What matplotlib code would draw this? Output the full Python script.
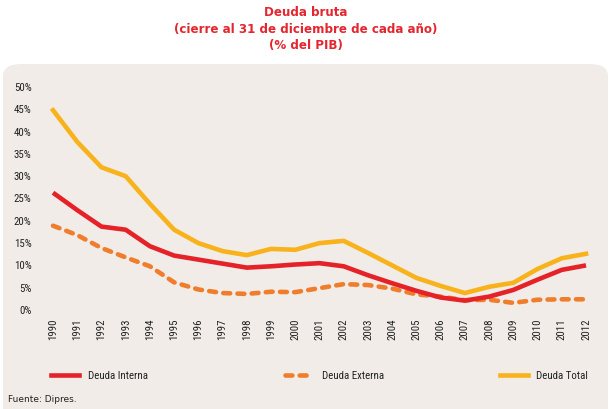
import matplotlib
matplotlib.use("Agg")
import matplotlib.pyplot as plt
from matplotlib import font_manager
from matplotlib.patches import FancyBboxPatch
from matplotlib.lines import Line2D

#---------------------------------- DATA --------------------------------------

years = list(range(1990, 2013))
deuda_interna = [26.3, 22.4, 18.7, 18.0, 14.3, 12.2, 11.3, 10.4, 9.5, 9.8,
                 10.2, 10.5, 9.8, 7.8, 6.0, 4.3, 2.8, 2.1, 3.0, 4.5,
                 6.8, 9.0, 10.0]
deuda_externa = [18.9, 16.8, 13.9, 11.8, 9.8, 6.2, 4.6, 3.8, 3.6, 4.1,
                 4.0, 4.9, 5.8, 5.6, 4.8, 3.5, 3.0, 2.2, 2.3, 1.6,
                 2.3, 2.4, 2.4]
deuda_total = [44.8, 37.7, 32.0, 30.0, 23.8, 18.0, 15.0, 13.2, 12.3, 13.7,
               13.5, 15.0, 15.5, 12.8, 10.0, 7.2, 5.4, 3.8, 5.2, 6.1,
               9.2, 11.6, 12.6]
y_ticks = list(range(0, 51, 5))

#--------------------------------- STYLE --------------------------------------

c_interna = "#e52228"
c_externa = "#f07d2b"
c_total = "#f8b31c"
panel_bg = "#f1ece7"
dash = (0, (1.5, 1.6))

#pick a narrow font if one is available
installed = {f.name for f in font_manager.fontManager.ttflist}
tick_font = "DejaVu Sans"
for name in ["Liberation Sans Narrow", "DejaVu Sans Condensed", "Roboto Condensed"]:
    if name in installed:
        tick_font = name
        break
tick_size = 7.8 if tick_font != "DejaVu Sans" else 6.5

W, H = 612, 409
fig = plt.figure(figsize=(W / 100, H / 100), dpi=100)
fig.patch.set_facecolor("white")

#rounded background panel, running off the bottom of the picture
panel = FancyBboxPatch((3 / W, -20 / H), (605 / W), (365 / H),
                       boxstyle="round,pad=0,rounding_size=0.03",
                       transform=fig.transFigure, facecolor=panel_bg,
                       edgecolor="none", zorder=-10)
fig.patches.append(panel)

#title
for txt, ypx in [("Deuda bruta", 12),
                 ("(cierre al 31 de diciembre de cada año)", 29),
                 ("(% del PIB)", 46)]:
    fig.text(0.5, 1 - ypx / H, txt, ha="center", va="center",
             color="#e3262f", fontsize=8.6, fontweight="bold")

#axes placed so 1990 -> x=53px, 2012 -> x=586px, 0% -> y=310, 50% -> y=87
step = (586 - 53) / 22
ax_l, ax_r = 40, 600
ax = fig.add_axes([ax_l / W, (H - 310) / H, (ax_r - ax_l) / W, (310 - 87) / H])
ax.set_zorder(5)
ax.set_facecolor("none")
ax.set_xlim(1990 - (53 - ax_l) / step, 2012 + (ax_r - 586) / step)
ax.set_ylim(0, 50)

ax.plot(years, deuda_interna, color=c_interna, lw=3.3,
        solid_capstyle="butt", label="Deuda Interna", zorder=3)
ax.plot(years, deuda_externa, color=c_externa, lw=3.3, ls=dash,
        dash_capstyle="round", label="Deuda Externa", zorder=2)
ax.plot(years, deuda_total, color=c_total, lw=3.3,
        label="Deuda Total", zorder=1)

for s in ax.spines.values():
    s.set_visible(False)

ax.set_xticks(years)
ax.set_xticklabels([str(y) for y in years], rotation=90,
                   fontfamily=tick_font, fontsize=tick_size, color="#222222")
ax.set_yticks(y_ticks)
ax.set_yticklabels([f"{v}%" for v in y_ticks], fontfamily=tick_font,
                   fontsize=tick_size, color="#222222")
ax.tick_params(length=0, pad=6)
ax.tick_params(axis="x", pad=6)

#legend: three separate entries spread across the bottom
entries = [(c_interna, "-", "Deuda Interna", 41, "center left"),
           (c_externa, dash, "Deuda Externa", 275, "center left"),
           (c_total, "-", "Deuda Total", 598, "center right")]
for color, ls, label, xpos, loc in entries:
    h = Line2D([], [], color=color, lw=3.3, ls=ls, dash_capstyle="round")
    leg = fig.legend([h], [label], loc=loc,
                     bbox_to_anchor=(xpos / W, 1 - 376 / H),
                     frameon=False, handlelength=2.6, handletextpad=0.8,
                     prop={"family": tick_font, "size": tick_size})
    for t in leg.get_texts():
        t.set_color("#222222")

#source note
fig.text(8 / W, 1 - 400 / H, "Fuente: Dipres.", ha="left", va="center",
         fontsize=6.5, color="#222222")

fig.savefig("out.png", dpi=100, facecolor=fig.get_facecolor())
